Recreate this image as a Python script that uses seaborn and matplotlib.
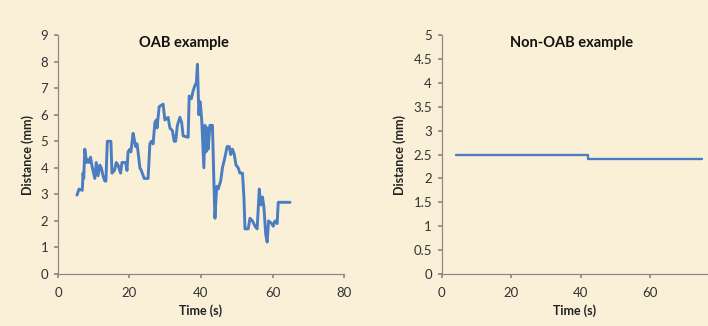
import numpy as np
import pandas as pd
import matplotlib
matplotlib.use("Agg")
import matplotlib.pyplot as plt
from matplotlib.ticker import FuncFormatter
import seaborn as sns

# ── data ─────────────────────────────────────────────────────────────────────
oab_time = [5.3, 5.9, 6.8, 7.0, 7.2, 7.5, 8.0, 8.4, 8.7, 9.1, 9.6, 10.3, 10.7,
            11.2, 11.7, 12.1, 12.6, 13.1, 13.4, 13.8, 14.8, 15.1, 15.8, 16.3,
            16.8, 17.5, 17.9, 18.9, 19.3, 19.6, 20.1, 20.4, 21.0, 21.3, 21.7,
            22.1, 22.4, 22.9, 23.3, 24.1, 25.2, 25.7, 26.1, 26.6, 27.1, 27.5,
            27.7, 28.3, 29.4, 29.9, 30.8, 31.3, 32.0, 32.5, 32.9, 33.4, 34.1,
            34.6, 35.0, 36.4, 36.7, 37.3, 37.8, 38.3, 38.7, 39.0, 39.4, 39.7,
            39.9, 40.2, 40.8, 41.1, 41.4, 41.8, 42.0, 42.5, 43.2, 43.6, 43.9,
            44.4, 44.8, 45.5, 46.0, 46.7, 47.3, 47.9, 48.3, 48.8, 49.3, 49.8,
            50.4, 50.9, 51.6, 52.0, 52.3, 53.2, 53.7, 54.4, 55.1, 55.7, 56.3,
            56.7, 57.2, 57.6, 58.1, 58.5, 58.9, 59.8, 60.2, 60.7, 61.3, 61.6,
            64.9]
oab_dist = [2.97, 3.2, 3.15, 3.8, 3.6, 4.7, 4.2, 4.3, 4.2, 4.4, 4.0, 3.6, 4.2,
            3.7, 4.1, 4.0, 3.7, 3.5, 3.5, 5.0, 5.0, 3.8, 3.9, 4.2,
            4.1, 3.8, 4.2, 4.2, 3.9, 4.6, 4.7, 4.6, 5.3, 5.1, 4.8,
            4.9, 4.6, 4.0, 3.9, 3.6, 3.6, 4.9, 5.0, 4.9, 5.7, 5.8,
            5.5, 6.3, 6.4, 5.8, 5.9, 5.5, 5.4, 5.0, 5.0, 5.6, 5.9,
            5.7, 5.2, 5.15, 6.7, 6.6, 6.9, 7.1, 7.2, 7.9, 6.0, 6.5,
            6.3, 5.8, 4.0, 5.6, 4.6, 5.5, 4.7, 5.6, 5.6, 3.5, 2.1,
            3.3, 3.2, 3.5, 4.0, 4.4, 4.8, 4.8, 4.5, 4.7, 4.5, 4.1,
            4.0, 3.8, 3.8, 2.9, 1.7, 1.7, 2.1, 2.0, 1.8, 1.7, 3.2,
            2.6, 2.9, 2.5, 1.5, 1.2, 2.0, 1.9, 1.8, 2.0, 1.9, 2.7,
            2.7]

non_oab_time = [4.1, 42.0, 42.0, 74.9]
non_oab_dist = [2.5, 2.5, 2.4, 2.4]

left_xticks = [0, 20, 40, 60, 80]
left_yticks = list(range(0, 10))
right_xticks = [0, 20, 40, 60]
right_yticks = [0, 0.5, 1, 1.5, 2, 2.5, 3, 3.5, 4, 4.5, 5]

oab = pd.DataFrame({"t": oab_time, "d": oab_dist})
non_oab = pd.DataFrame({"t": non_oab_time, "d": non_oab_dist})

# ── style ───────────────────────────────────────────────────────────────────
sns.set_theme(style="ticks")
bg = "#FAF0D8"
line_color = "#4A7DC2"
plt.rcParams.update({
    "font.family": ["Lato", "DejaVu Sans"],
    "figure.facecolor": bg,
    "axes.facecolor": bg,
    "axes.edgecolor": "#8A8A8A",
    "axes.linewidth": 0.9,
    "xtick.color": "#8A8A8A",
    "ytick.color": "#8A8A8A",
    "xtick.labelcolor": "#333333",
    "ytick.labelcolor": "#333333",
    "xtick.labelsize": 9.5,
    "ytick.labelsize": 9.5,
    "xtick.major.size": 3,
    "ytick.major.size": 3,
    "xtick.major.pad": 6,
    "ytick.major.pad": 4,
})

fig = plt.figure(figsize=(7.08, 3.26), dpi=100)
ax1 = fig.add_axes([0.0819, 0.1595, 0.404, 0.733])
ax2 = fig.add_axes([0.6239, 0.1595, 0.3761, 0.733])

fmt = FuncFormatter(lambda v, p: f"{v:g}")

sns.lineplot(data=oab, x="t", y="d", ax=ax1, color=line_color, lw=2.1,
             sort=False, estimator=None)
ax1.set_xlim(0, 80)
ax1.set_ylim(0, 9)
ax1.set_xticks(left_xticks)
ax1.set_yticks(left_yticks)

sns.lineplot(data=non_oab, x="t", y="d", ax=ax2, color=line_color, lw=1.7,
             sort=False, estimator=None)
ax2.set_xlim(0, 76.7)
ax2.set_ylim(0, 5)
ax2.set_xticks(right_xticks)
ax2.set_yticks(right_yticks)
ax2.yaxis.set_major_formatter(fmt)

for ax, title, tx in [(ax1, "OAB example", 0.44), (ax2, "Non-OAB example", 0.489)]:
    sns.despine(ax=ax)
    ax.text(tx, 0.965, title, transform=ax.transAxes, ha="center", va="center",
            fontsize=10.5, fontweight="bold", color="#111111")
    ax.set_xlabel("Time (s)", fontsize=9, fontweight="bold", color="#222222",
                  labelpad=4)
    ax.set_ylabel("Distance (mm)", fontsize=9, fontweight="bold",
                  color="#222222", labelpad=5)

fig.savefig("out.png", dpi=100, facecolor=bg)
